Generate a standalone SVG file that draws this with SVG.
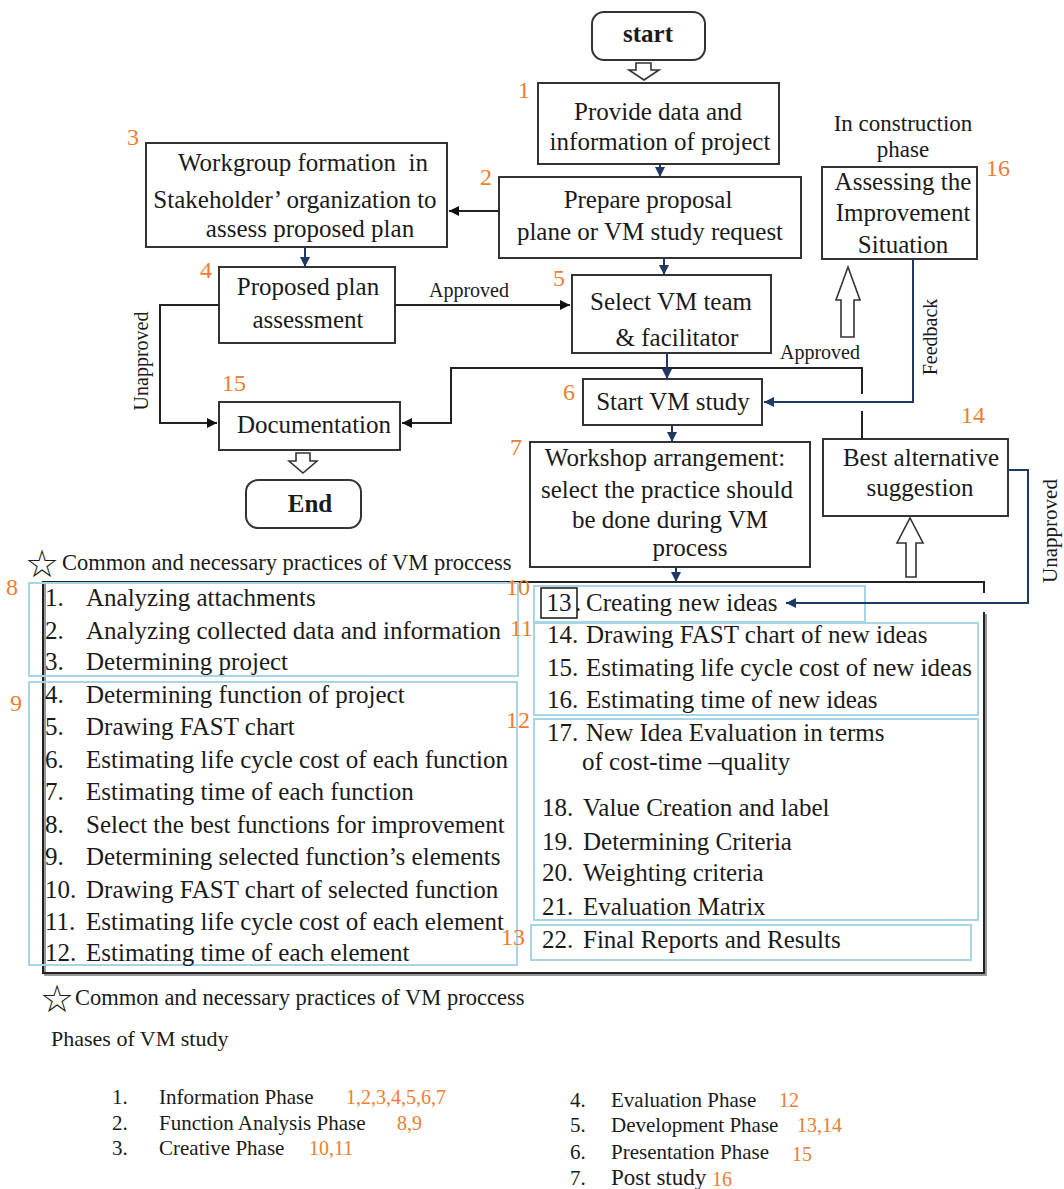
<svg xmlns="http://www.w3.org/2000/svg" width="1064" height="1189" viewBox="0 0 1064 1189">
<style>
text{font-family:"Liberation Serif","Times New Roman",serif;fill:#1a1a1a}
.bt{font-size:25px;text-anchor:middle}
.li{font-size:25px}
.lb{font-size:20px}
.on{font-size:24px;fill:#ED7D31}
.lg{font-size:21px}
.lo{font-size:20px;fill:#ED7D31}
.box{fill:#fff;stroke:#333;stroke-width:2}
.cy{fill:none;stroke:#A8D5E6;stroke-width:2}
.ln{fill:none;stroke:#222;stroke-width:2}
.nv{fill:none;stroke:#1F3864;stroke-width:2}
.ho{fill:#fff;stroke:#333;stroke-width:1.6}
.star{font-family:"DejaVu Sans",sans-serif;font-size:38px}
.bold{font-weight:bold}
</style>
<defs>
<marker id="ak" viewBox="0 0 10 10" refX="10" refY="5" markerWidth="11" markerHeight="10" markerUnits="userSpaceOnUse" orient="auto"><path d="M0,0 L10,5 L0,10 z" fill="#111"/></marker>
<marker id="an" viewBox="0 0 10 10" refX="10" refY="5" markerWidth="10" markerHeight="10" markerUnits="userSpaceOnUse" orient="auto"><path d="M0,0 L10,5 L0,10 z" fill="#1F3864"/></marker>
</defs>
<rect width="1064" height="1189" fill="#fff"/>

<!-- big practices box -->
<g id="practices">
<path d="M986 614 V975 H45 V584" fill="none" stroke="#999" stroke-width="2"/>
<path d="M984 612 V973 H43 V582 H984 V593" class="ln" stroke="#333"/>
<rect class="cy" x="29" y="583" width="489" height="93"/>
<rect class="cy" x="29" y="682" width="488" height="283"/>
<rect class="cy" x="534" y="586" width="331" height="36"/>
<rect class="cy" x="534" y="623" width="444" height="92"/>
<rect class="cy" x="534" y="719" width="444" height="201"/>
<rect class="cy" x="531" y="925" width="440" height="35"/>
<text class="on" x="6" y="595">8</text>
<text class="on" x="10" y="711">9</text>
<text class="on" x="506" y="595">10</text>
<text class="on" x="510" y="636">11</text>
<text class="on" x="506" y="728">12</text>
<text class="on" x="501" y="945">13</text>
<g class="li">
<text x="45" y="606">1.</text><text x="86" y="606">Analyzing attachments</text>
<text x="45" y="639">2.</text><text x="86" y="639">Analyzing collected data and information</text>
<text x="45" y="670">3.</text><text x="86" y="670">Determining project</text>
<text x="45" y="703">4.</text><text x="86" y="703">Determining function of project</text>
<text x="45" y="735">5.</text><text x="86" y="735">Drawing FAST chart</text>
<text x="45" y="768">6.</text><text x="86" y="768">Estimating life cycle cost of each function</text>
<text x="45" y="800">7.</text><text x="86" y="800">Estimating time of each function</text>
<text x="45" y="833">8.</text><text x="86" y="833">Select the best functions for improvement</text>
<text x="45" y="865">9.</text><text x="86" y="865">Determining selected function’s elements</text>
<text x="45" y="898">10.</text><text x="86" y="898">Drawing FAST chart of selected function</text>
<text x="45" y="930">11.</text><text x="86" y="930">Estimating life cycle cost of each element</text>
<text x="45" y="961">12.</text><text x="86" y="961">Estimating time of each element</text>
</g>
<rect x="541" y="588" width="36" height="30" fill="none" stroke="#222" stroke-width="1.6"/>
<g class="li">
<text x="559" y="611" text-anchor="middle">13</text><text x="575" y="611">.</text><text x="586" y="611">Creating new ideas</text>
<text x="547" y="643">14.</text><text x="586" y="643">Drawing FAST chart of new ideas</text>
<text x="547" y="676">15.</text><text x="586" y="676">Estimating life cycle cost of new ideas</text>
<text x="547" y="708">16.</text><text x="586" y="708">Estimating time of new ideas</text>
<text x="547" y="741">17.</text><text x="586" y="741">New Idea Evaluation in terms</text>
<text x="582" y="770">of cost-time –quality</text>
<text x="542" y="816">18.</text><text x="583" y="816">Value Creation and label</text>
<text x="542" y="850">19.</text><text x="583" y="850">Determining Criteria</text>
<text x="542" y="881">20.</text><text x="583" y="881">Weighting criteria</text>
<text x="542" y="915">21.</text><text x="583" y="915">Evaluation Matrix</text>
<text x="542" y="948">22.</text><text x="583" y="948">Final Reports and Results</text>
</g>
</g>

<g id="n-start">
<rect class="box" x="592" y="12" width="113" height="48" rx="12"/>
<text class="bt bold" x="648" y="42">start</text>
</g>

<g id="n1">
<rect class="box" x="538" y="83" width="241" height="81"/>
<text class="bt" x="658" y="120">Provide data and</text>
<text class="bt" x="660" y="150">information of project</text>
<text class="on" x="518" y="98">1</text>
</g>

<g id="n2">
<rect class="box" x="499" y="177" width="302" height="81"/>
<text class="bt" x="648" y="208">Prepare proposal</text>
<text class="bt" x="650" y="240">plane or VM study request</text>
<text class="on" x="480" y="185">2</text>
</g>

<g id="n3">
<rect class="box" x="146" y="143" width="301" height="104"/>
<text class="bt" x="303" y="171" style="white-space:pre">Workgroup formation  in</text>
<text class="bt" x="295" y="208">Stakeholder’ organization to</text>
<text class="bt" x="310" y="237">assess proposed plan</text>
<text class="on" x="127" y="145">3</text>
</g>

<g id="n4">
<rect class="box" x="219" y="267" width="176" height="76"/>
<text class="bt" x="308" y="295">Proposed plan</text>
<text class="bt" x="308" y="328">assessment</text>
<text class="on" x="200" y="278">4</text>
</g>

<g id="n5">
<rect class="box" x="572" y="275" width="199" height="78"/>
<text class="bt" x="671" y="310">Select VM team</text>
<text class="bt" x="677" y="346">&amp; facilitator</text>
<text class="on" x="553" y="286">5</text>
</g>

<g id="n6">
<rect class="box" x="583" y="379" width="179" height="46"/>
<text class="bt" x="673" y="410">Start VM study</text>
<text class="on" x="563" y="400">6</text>
</g>

<g id="n7">
<rect class="box" x="530" y="442" width="280" height="125"/>
<text class="bt" x="665" y="466">Workshop arrangement:</text>
<text class="bt" x="667" y="498">select the practice should</text>
<text class="bt" x="670" y="528">be done during VM</text>
<text class="bt" x="690" y="556">process</text>
<text class="on" x="510" y="455">7</text>
</g>

<g id="n14">
<rect class="box" x="823" y="439" width="185" height="77"/>
<text class="bt" x="921" y="466">Best alternative</text>
<text class="bt" x="920" y="496">suggestion</text>
<text class="on" x="961" y="423">14</text>
</g>

<g id="n15">
<rect class="box" x="219" y="402" width="181" height="48"/>
<text class="bt" x="314" y="433">Documentation</text>
<text class="on" x="222" y="391">15</text>
</g>

<g id="n16">
<rect class="box" x="822" y="167" width="155" height="92"/>
<text class="bt" x="903" y="190">Assessing the</text>
<text class="bt" x="903" y="221">Improvement</text>
<text class="bt" x="903" y="253">Situation</text>
<text class="bt" x="903" y="131" style="font-size:23px">In construction</text>
<text class="bt" x="903" y="157" style="font-size:23px">phase</text>
<text class="on" x="986" y="176">16</text>
</g>

<g id="n-end">
<rect class="box" x="246" y="480" width="115" height="48" rx="12"/>
<text class="bt bold" x="310" y="512">End</text>
</g>

<g id="connectors">
<polygon class="ho" points="636,63 651,63 651,70 659,70 644,80 629,70 636,70"/>
<line class="nv" x1="660" y1="164" x2="660" y2="177" marker-end="url(#an)"/>
<line class="ln" x1="499" y1="211" x2="449" y2="211" marker-end="url(#ak)"/>
<line class="nv" x1="305" y1="247" x2="305" y2="267" marker-end="url(#an)"/>
<line class="nv" x1="664" y1="258" x2="664" y2="275" marker-end="url(#an)"/>
<line class="ln" x1="395" y1="305" x2="570" y2="305" marker-end="url(#ak)"/>
<polyline class="ln" points="219,305 160,305 160,423 217,423" marker-end="url(#ak)"/>
<path class="ln" d="M862 439 V411 M862 394 V368 H451 V423 H402" marker-end="url(#ak)"/>
<line class="nv" x1="667" y1="353" x2="667" y2="379" marker-end="url(#an)"/>
<polyline class="nv" points="913,259 913,402 764,402" marker-end="url(#an)"/>
<line class="nv" x1="672" y1="425" x2="672" y2="442" marker-end="url(#an)"/>
<line class="nv" x1="676" y1="567" x2="676" y2="582" marker-end="url(#an)"/>
<polyline class="nv" points="1008,470 1028,470 1028,603 786,603" marker-end="url(#an)"/>
<polygon class="ho" points="296,453 310,453 310,461 317,461 303,473 289,461 296,461"/>
<polygon class="ho" points="906,577 916,577 916,543 923,543 910,518 897,543 906,543"/>
<polygon class="ho" points="841,337 854,337 854,300 860,300 848,267 836,300 841,300"/>
<text class="lb" x="469" y="297" text-anchor="middle">Approved</text>
<text class="lb" x="820" y="359" text-anchor="middle">Approved</text>
<text class="lb" transform="translate(148,361) rotate(-90)" text-anchor="middle">Unapproved</text>
<text class="lb" transform="translate(1057,531) rotate(-90)" text-anchor="middle" style="font-size:21px">Unapproved</text>
<text class="lb" transform="translate(937,337) rotate(-90)" text-anchor="middle">Feedback</text>
</g>

<g id="notes">
<text class="star" x="25" y="577">☆</text>
<text x="62" y="570" style="font-size:22.5px">Common and necessary practices of VM proccess</text>
<text class="star" x="40" y="1012">☆</text>
<text x="75" y="1005" style="font-size:22.5px">Common and necessary practices of VM proccess</text>
<text x="51" y="1046" style="font-size:22px">Phases of VM study</text>
<g class="lg">
<text x="112" y="1104">1.</text><text x="159" y="1104">Information Phase</text><text class="lo" x="346" y="1104">1,2,3,4,5,6,7</text>
<text x="112" y="1130">2.</text><text x="159" y="1130">Function Analysis Phase</text><text class="lo" x="397" y="1130">8,9</text>
<text x="112" y="1155">3.</text><text x="159" y="1155">Creative Phase</text><text class="lo" x="309" y="1155">10,11</text>
<text x="570" y="1107">4.</text><text x="611" y="1107">Evaluation Phase</text><text class="lo" x="779" y="1107">12</text>
<text x="570" y="1132">5.</text><text x="611" y="1132">Development Phase</text><text class="lo" x="797" y="1132">13,14</text>
<text x="570" y="1159">6.</text><text x="611" y="1159">Presentation Phase</text><text class="lo" x="792" y="1161">15</text>
<text x="570" y="1185">7.</text><text x="611" y="1185" style="font-size:23px">Post study</text><text class="lo" x="712" y="1186">16</text>
</g>
</g>
</svg>
